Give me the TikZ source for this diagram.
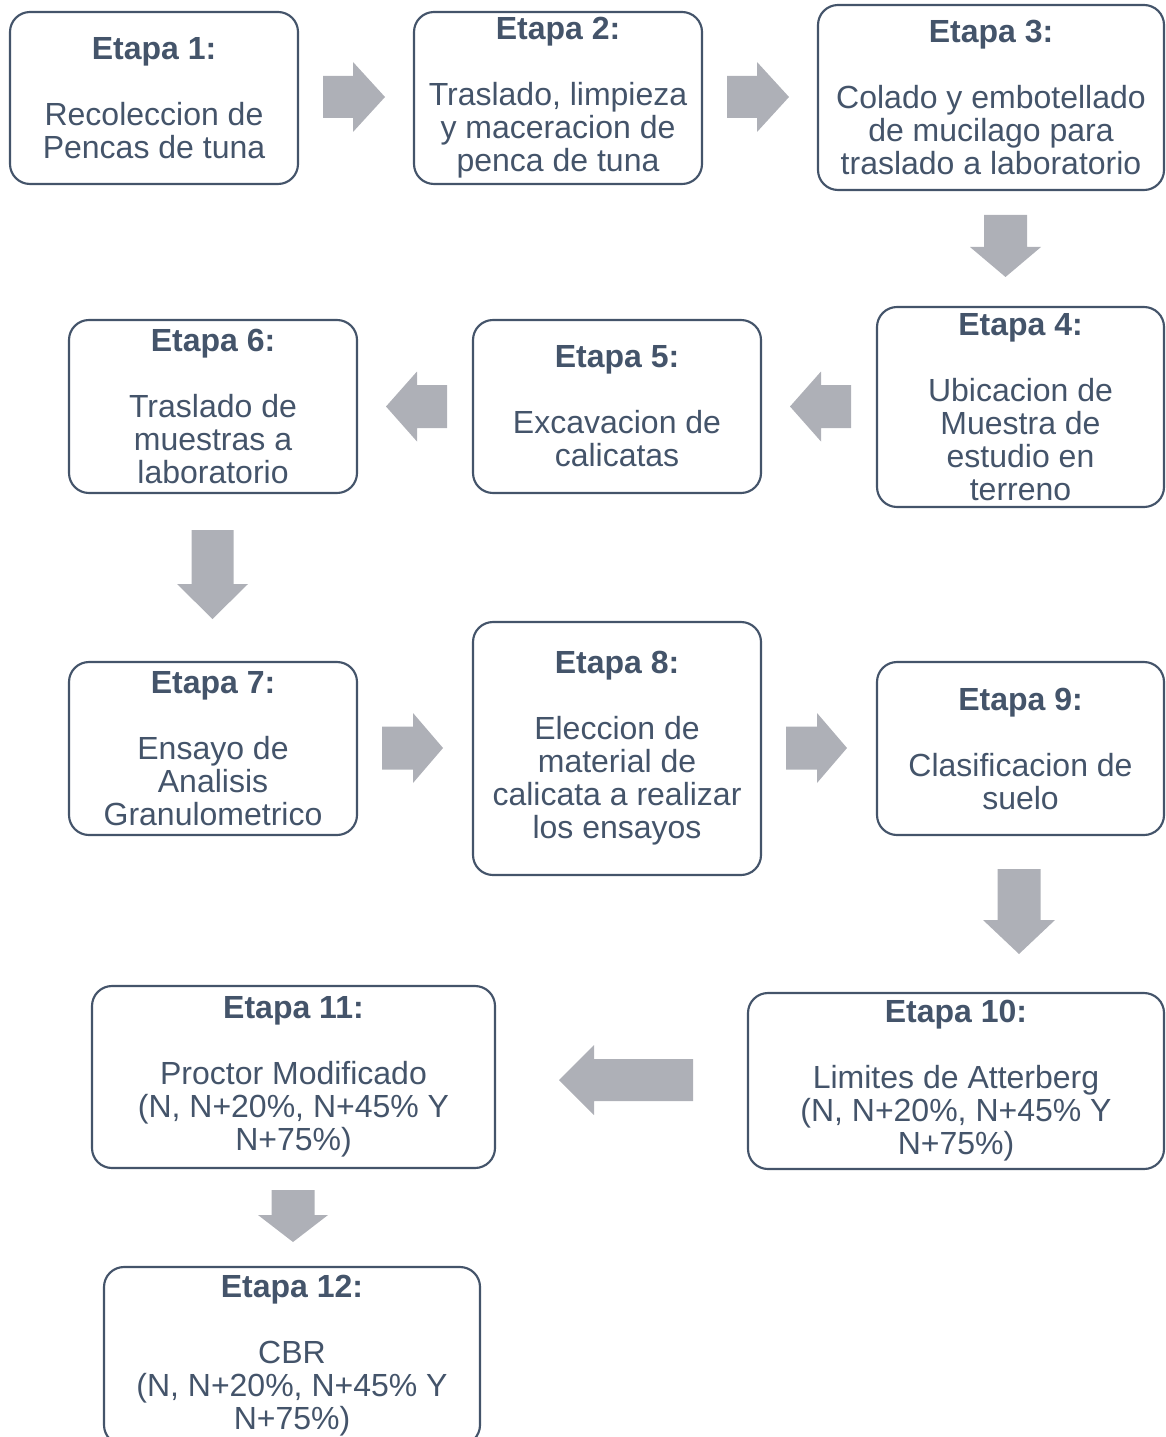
\documentclass[tikz,border=0pt]{standalone}
\usepackage{fontspec}
\setmainfont{Liberation Sans}
\definecolor{txt}{HTML}{44546A}
\definecolor{arr}{HTML}{AEB0B7}
\begin{document}
\begin{tikzpicture}[x=0.75pt,y=-0.75pt,
  box/.style={draw=txt, line width=1.6pt, rounded corners=15pt, fill=white,
    text=txt, align=center, inner sep=0pt,
    font=\fontsize{24pt}{24.75pt}\selectfont},
  blk/.style={fill=arr, draw=none}]
\useasboundingbox (0,0) rectangle (1165,1437);
\newcommand\bx[6]{\node[box, minimum width=#4*0.75pt, minimum height=#5*0.75pt] (#1) at (#2,#3) {#6};}
\newcommand\ttl[1]{\textbf{#1}\\[24.75pt]}
% boxes
\bx{e1}{154}{98}{288}{172}{\ttl{Etapa 1:}Recoleccion de\\Pencas de tuna}
\bx{e2}{558}{98}{288}{172}{\ttl{Etapa 2:}Traslado, limpieza\\y maceracion de\\penca de tuna}
\bx{e3}{991}{97.5}{346}{185}{\ttl{Etapa 3:}Colado y embotellado\\de mucilago para\\traslado a laboratorio}
\bx{e4}{1020.5}{407}{287}{200}{\ttl{Etapa 4:}Ubicacion de\\Muestra de\\estudio en\\terreno}
\bx{e5}{617}{406.5}{288}{173}{\ttl{Etapa 5:}Excavacion de\\calicatas}
\bx{e6}{213}{406.5}{288}{173}{\ttl{Etapa 6:}Traslado de\\muestras a\\laboratorio}
\bx{e7}{213}{748.5}{288}{173}{\ttl{Etapa 7:}Ensayo de\\Analisis\\Granulometrico}
\bx{e8}{617}{748.5}{288}{253}{\ttl{Etapa 8:}Eleccion de\\material de\\calicata a realizar\\los ensayos}
\bx{e9}{1020.5}{748.5}{287}{173}{\ttl{Etapa 9:}Clasificacion de\\suelo}
\bx{e10}{956}{1081}{416}{176}{\ttl{Etapa 10:}Limites de Atterberg\\(N, N+20\%, N+45\% Y\\N+75\%)}
\bx{e11}{293.5}{1077}{403}{182}{\ttl{Etapa 11:}Proctor Modificado\\(N, N+20\%, N+45\% Y\\N+75\%)}
\bx{e12}{292}{1356}{376}{178}{\ttl{Etapa 12:}CBR\\(N, N+20\%, N+45\% Y\\N+75\%)}
% block arrows
% right/left: shaft x0..x1, head x1..tip, centre y, half shaft, half head
\newcommand\rarr[6]{\fill[blk] (#1,#4-#5) -- (#2,#4-#5) -- (#2,#4-#6) -- (#3,#4) -- (#2,#4+#6) -- (#2,#4+#5) -- (#1,#4+#5) -- cycle;}
% down: shaft y0..y1, head y1..tip, centre x, half shaft, half head
\newcommand\darr[6]{\fill[blk] (#4-#5,#1) -- (#4-#5,#2) -- (#4-#6,#2) -- (#4,#3) -- (#4+#6,#2) -- (#4+#5,#2) -- (#4+#5,#1) -- cycle;}
\rarr{323}{353}{385}{97}{21}{35}   % e1 -> e2
\rarr{727}{757}{789}{97}{21}{35}   % e2 -> e3
\darr{215}{247}{277}{1005.5}{21.5}{35.5} % e3 -> e4
\rarr{851}{821}{790}{406.5}{21.5}{35}  % e4 -> e5
\rarr{447}{417}{386}{406.5}{21.5}{35}  % e5 -> e6
\darr{530}{584}{619}{212.5}{21}{35.5}  % e6 -> e7
\rarr{382}{413}{443}{748}{21.5}{35}    % e7 -> e8
\rarr{786}{817}{847}{748}{21.5}{35}    % e8 -> e9
\darr{869}{920}{954}{1019}{21.5}{36}   % e9 -> e10
\rarr{693}{594}{559}{1080}{21}{35}     % e10 -> e11
\darr{1190}{1215}{1242}{293}{21.5}{35} % e11 -> e12
\end{tikzpicture}
\end{document}
